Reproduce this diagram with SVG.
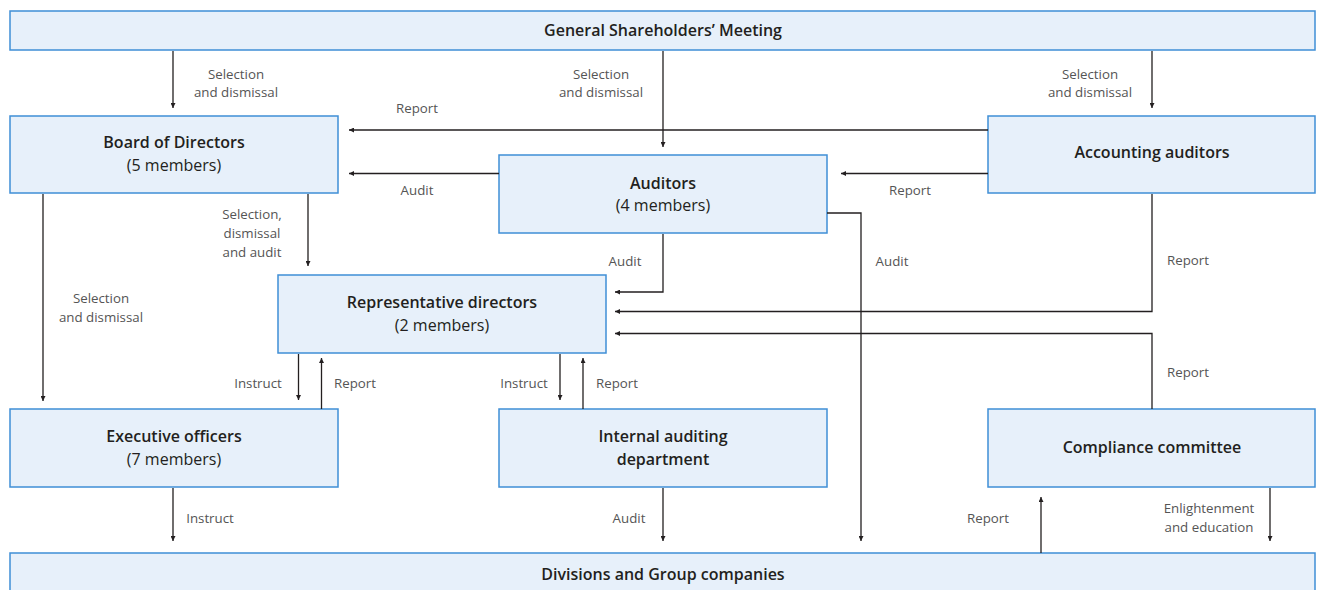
<svg xmlns="http://www.w3.org/2000/svg" width="1317" height="590" viewBox="0 0 1317 590">
<defs>
<style>
.box{fill:#e7f0fa;stroke:#3f8fd6;stroke-width:1.5}
.t{font-family:"Open Sans","Noto Sans",sans-serif;font-weight:600;font-size:16px;fill:#231f20;text-anchor:middle}
.m{font-family:"Open Sans","Noto Sans",sans-serif;font-weight:400;font-size:16px;fill:#231f20;text-anchor:middle}
.l{font-family:"Open Sans","Noto Sans",sans-serif;font-size:13.3px;fill:#555;text-anchor:middle}
.c{fill:none;stroke:#231f20;stroke-width:1.3;marker-end:url(#ah)}
</style>
<marker id="ah" viewBox="0 0 6 6" refX="6" refY="3" markerWidth="6" markerHeight="5" markerUnits="userSpaceOnUse" orient="auto">
<path d="M0,0 L6,3 L0,6 z" fill="#231f20"/>
</marker>
</defs>
<rect width="1317" height="590" fill="#fff"/>
<g id="gsm"><rect class="box" x="10" y="11" width="1305" height="39"/><text class="t" x="663" y="36">General Shareholders’ Meeting</text></g>
<g id="board"><rect class="box" x="10" y="116" width="328" height="77"/><text class="t" x="174" y="148">Board of Directors</text><text class="m" x="174" y="171">(5 members)</text></g>
<g id="auditors"><rect class="box" x="499" y="155" width="328" height="78"/><text class="t" x="663" y="189">Auditors</text><text class="m" x="663" y="211">(4 members)</text></g>
<g id="accounting"><rect class="box" x="988" y="116" width="327" height="77"/><text class="t" x="1152" y="158">Accounting auditors</text></g>
<g id="rep"><rect class="box" x="278" y="275" width="328" height="78"/><text class="t" x="442" y="308">Representative directors</text><text class="m" x="442" y="331">(2 members)</text></g>
<g id="exec"><rect class="box" x="10" y="409" width="328" height="78"/><text class="t" x="174" y="442">Executive officers</text><text class="m" x="174" y="465">(7 members)</text></g>
<g id="internal"><rect class="box" x="499" y="409" width="328" height="78"/><text class="t" x="663" y="442">Internal auditing</text><text class="t" x="663" y="465">department</text></g>
<g id="compliance"><rect class="box" x="988" y="409" width="327" height="78"/><text class="t" x="1152" y="453">Compliance committee</text></g>
<g id="divisions"><rect class="box" x="10" y="553" width="1305" height="45"/><text class="t" x="663" y="580">Divisions and Group companies</text></g>
<g id="connectors">
<path class="c" d="M173 51V108"/>
<path class="c" d="M663 51V147"/>
<path class="c" d="M1152 51V108"/>
<path class="c" d="M988 130H349"/>
<path class="c" d="M499 173.5H349"/>
<path class="c" d="M988 173.5H841"/>
<path class="c" d="M43 194V401"/>
<path class="c" d="M308 194V266"/>
<path class="c" d="M663 234V292H615"/>
<path class="c" d="M1152 194V311.5H615"/>
<path class="c" d="M1152 409V333.5H615"/>
<path class="c" d="M827 213H861V541"/>
<path class="c" d="M298.5 354V400"/>
<path class="c" d="M321.5 409V358"/>
<path class="c" d="M560 354V400"/>
<path class="c" d="M583 409V358"/>
<path class="c" d="M173 488V541"/>
<path class="c" d="M663 488V541"/>
<path class="c" d="M1041 553V497"/>
<path class="c" d="M1270 488V541"/>
<g id="labels">
<text class="l" x="236" y="79">Selection</text><text class="l" x="236" y="97">and dismissal</text>
<text class="l" x="601" y="79">Selection</text><text class="l" x="601" y="97">and dismissal</text>
<text class="l" x="1090" y="79">Selection</text><text class="l" x="1090" y="97">and dismissal</text>
<text class="l" x="417" y="113">Report</text>
<text class="l" x="417" y="195">Audit</text>
<text class="l" x="910" y="195">Report</text>
<text class="l" x="252" y="218.5">Selection,</text><text class="l" x="252" y="237.5">dismissal</text><text class="l" x="252" y="256.5">and audit</text>
<text class="l" x="101" y="303">Selection</text><text class="l" x="101" y="322">and dismissal</text>
<text class="l" x="625" y="266">Audit</text>
<text class="l" x="892" y="266">Audit</text>
<text class="l" x="1188" y="265">Report</text>
<text class="l" x="1188" y="377">Report</text>
<text class="l" x="258" y="388">Instruct</text>
<text class="l" x="355" y="388">Report</text>
<text class="l" x="524" y="388">Instruct</text>
<text class="l" x="617" y="388">Report</text>
<text class="l" x="210" y="523">Instruct</text>
<text class="l" x="629" y="523">Audit</text>
<text class="l" x="988" y="523">Report</text>
<text class="l" x="1209" y="513">Enlightenment</text><text class="l" x="1209" y="532">and education</text>
</g>
</g>
</svg>
